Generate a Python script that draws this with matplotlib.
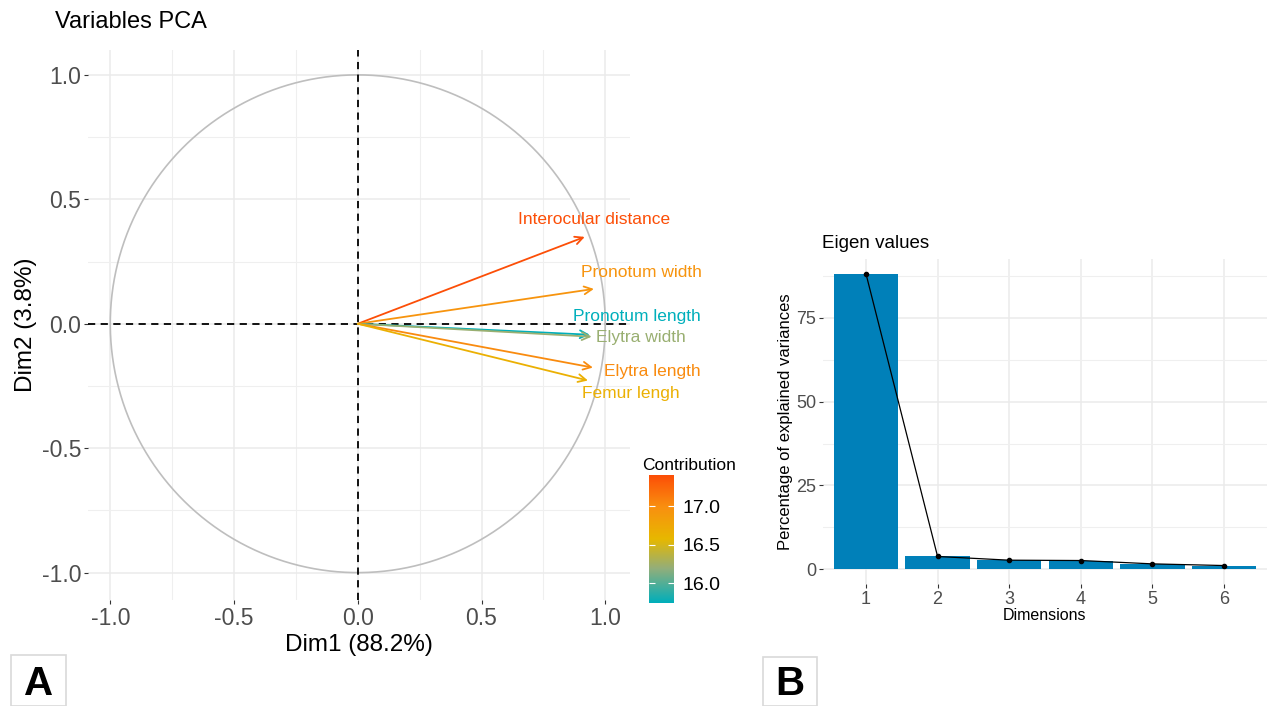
import matplotlib.pyplot as plt
import numpy as np
from matplotlib.colors import LinearSegmentedColormap, Normalize
from matplotlib.patches import Rectangle

plt.rcParams['font.family'] = ['Liberation Sans', 'DejaVu Sans']
plt.rcParams['axes.unicode_minus'] = False

# variables correlation circle
var_names = ["Interocular distance", "Pronotum width", "Pronotum length",
             "Elytra width", "Elytra length", "Femur lengh"]
dim1 = [0.917, 0.954, 0.937, 0.945, 0.950, 0.930]
dim2 = [0.349, 0.140, -0.044, -0.052, -0.176, -0.228]
contrib = [17.41, 16.95, 15.74, 16.22, 17.02, 16.66]
label_x = [0.954, 1.147, 1.127, 1.143, 1.192, 1.103]
label_y = [0.417, 0.204, 0.028, -0.056, -0.192, -0.281]

# scree plot
dims = [1, 2, 3, 4, 5, 6]
explained = [88.2, 3.8, 2.7, 2.6, 1.6, 1.1]

W, H = 1271, 706
fig = plt.figure(figsize=(W / 100, H / 100), dpi=100)


def px_axes(x0, y0, x1, y1):
    return fig.add_axes([x0 / W, 1 - y1 / H, (x1 - x0) / W, (y1 - y0) / H])


def minimal(ax):
    for s in ax.spines.values():
        s.set_visible(False)
    ax.set_axisbelow(True)
    ax.grid(True, which='major', color='#EBEBEB', lw=1.1)
    ax.grid(True, which='minor', color='#EFEFEF', lw=0.8)
    ax.tick_params(which='major', length=3, width=0.8, color='#333333',
                   labelcolor='#4D4D4D')
    ax.tick_params(which='minor', length=0)


# teal -> yellow -> red, with greyish middle stops like a Lab blend
cmap = LinearSegmentedColormap.from_list(
    "contrib", [(0.0, "#00AFBB"), (0.27, "#93AE7A"), (0.5, "#E7B800"),
                (0.75, "#F99010"), (1.0, "#FC4E07")])
norm = Normalize(vmin=min(contrib), vmax=max(contrib))

# ---- panel A
ax = px_axes(88, 50, 630, 600)
minimal(ax)
ax.set_xlim(-1.09, 1.10)
ax.set_ylim(-1.11, 1.10)
ax.set_xticks([-1.0, -0.5, 0.0, 0.5, 1.0])
ax.set_yticks([-1.0, -0.5, 0.0, 0.5, 1.0])
ax.set_xticks([-0.75, -0.25, 0.25, 0.75], minor=True)
ax.set_yticks([-0.75, -0.25, 0.25, 0.75], minor=True)
ax.tick_params(labelsize=16.5, pad=2)
t = np.linspace(0, 2 * np.pi, 400)
ax.plot(np.cos(t), np.sin(t), color='#BEBEBE', lw=1.2)
ax.axhline(0, color='black', ls='--', lw=1.3, dashes=(4, 3))
ax.axvline(0, color='black', ls='--', lw=1.3, dashes=(4, 3))
for i, name in enumerate(var_names):
    c = cmap(norm(contrib[i]))
    ax.annotate("", xy=(dim1[i], dim2[i]), xytext=(0, 0),
                arrowprops=dict(arrowstyle='->', color=c, lw=1.3,
                                mutation_scale=14, shrinkA=0, shrinkB=0))
    ax.text(label_x[i], label_y[i], name, color=c, fontsize=12.5,
            ha='center', va='center')
ax.set_xlabel("Dim1 (88.2%)", fontsize=17.5, labelpad=3)
ax.set_ylabel("Dim2 (3.8%)", fontsize=17.5, labelpad=3)
fig.text(55 / W, 1 - 22 / H, "Variables PCA", fontsize=17, va='center')

# colorbar
cax = px_axes(649, 475, 674, 603)
grad = np.linspace(min(contrib), max(contrib), 256).reshape(-1, 1)
cax.imshow(grad, cmap=cmap, norm=norm, aspect='auto', origin='lower',
           extent=[0, 1, min(contrib), max(contrib)])
cax.set_xticks([])
cax.yaxis.tick_right()
cax.set_yticks([16.0, 16.5, 17.0])
cax.set_yticklabels(["16.0", "16.5", "17.0"])
cax.tick_params(axis='y', direction='in', length=4, color='white',
                labelsize=14, pad=6, left=True)
for s in cax.spines.values():
    s.set_visible(False)
fig.text(689 / W, 1 - 465 / H, "Contribution", fontsize=12.5, ha='center', va='center')

# ---- panel B
bx = px_axes(823, 259, 1267, 584)
minimal(bx)
bx.bar(dims, explained, width=0.9, color='#0080B9')
bx.plot(dims, explained, color='black', lw=0.9, marker='o', markersize=3)
bx.set_xlim(0.4, 6.6)
bx.set_ylim(-4.41, 92.6)
bx.set_xticks(dims)
bx.set_yticks([0, 25, 50, 75])
bx.set_yticks([12.5, 37.5, 62.5, 87.5], minor=True)
bx.tick_params(labelsize=13, pad=2)
bx.set_xlabel("Dimensions", fontsize=11.5, labelpad=0)
bx.set_ylabel("Percentage of explained variances", fontsize=12, labelpad=2)
fig.text(822 / W, 1 - 243 / H, "Eigen values", fontsize=13.5, va='center')

# ---- panel letters
for x0, y0, x1, letter in [(11, 655, 66, "A"), (763, 657, 817, "B")]:
    fig.patches.append(Rectangle((x0 / W, 0), (x1 - x0) / W, 1 - y0 / H,
                                 transform=fig.transFigure, fill=False,
                                 edgecolor='#D9D9D9', lw=1.2))
    fig.text((x0 + x1) / 2 / W, 1 - 684 / H, letter, fontsize=29,
             fontweight='bold', ha='center', va='center')

fig.savefig("out.png", dpi=100)
